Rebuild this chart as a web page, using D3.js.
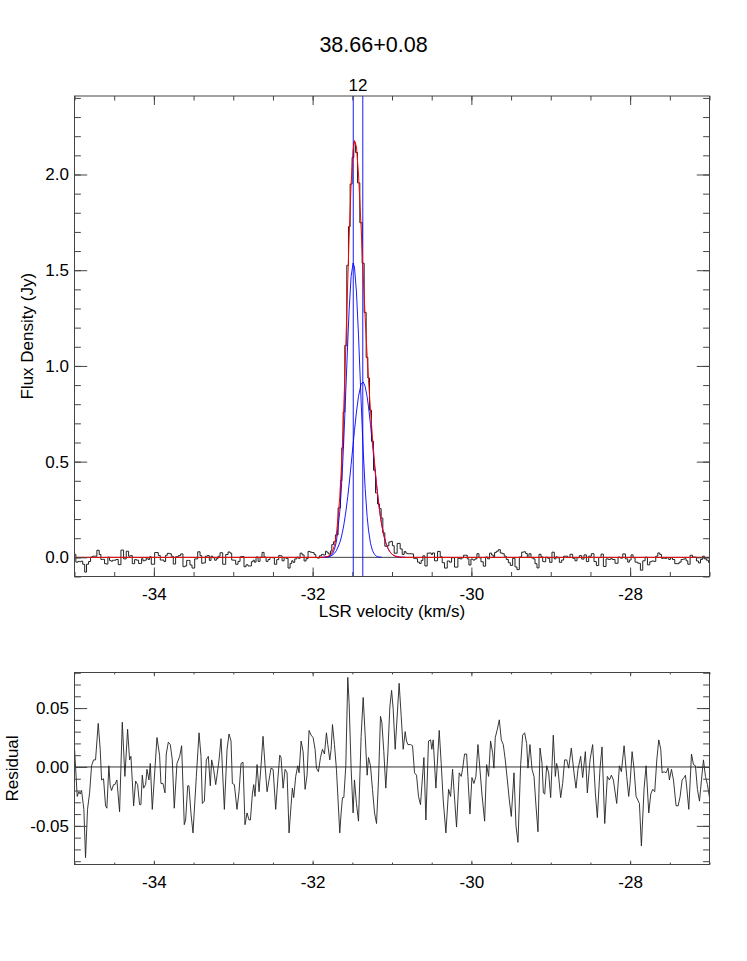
<!DOCTYPE html>
<html>
<head>
<meta charset="utf-8">
<script src="https://cdn.jsdelivr.net/npm/d3@7"></script>
<style>
  body { margin: 0; background: #fff; }
  text { font-family: "Liberation Sans", Arial, Helvetica, sans-serif; fill: #000; }
</style>
</head>
<body>
<div id="container"></div>
<script>
/* DATA */
const title = "38.66+0.08";
const compLabels = ["1", "2"];
const compCenter = [-31.488, -31.368];
const compAmp = [1.538, 0.917];
const compSigma = [0.088, 0.13];
const baseline = 0.0;

const velTicks = [-34, -32, -30, -28];
const fluxTicks = [0.0, 0.5, 1.0, 1.5, 2.0];
const residTicks = [-0.05, 0.00, 0.05];

// [velocity (km/s), residual (Jy)]
const residual = [
  [-35.000, 0.016], [-34.966, -0.025], [-34.945, -0.021], [-34.928, -0.023], [-34.911, -0.020],
  [-34.882, -0.036], [-34.861, -0.077], [-34.836, -0.036], [-34.810, -0.022], [-34.785, 0.001],
  [-34.760, 0.006], [-34.735, 0.006], [-34.701, 0.037], [-34.676, 0.015], [-34.659, -0.011],
  [-34.634, -0.010], [-34.609, -0.033], [-34.592, -0.035], [-34.567, 0.001], [-34.550, -0.016],
  [-34.533, -0.020], [-34.508, -0.015], [-34.491, -0.015], [-34.466, -0.011], [-34.432, -0.038],
  [-34.398, 0.038], [-34.365, -0.008], [-34.331, 0.032], [-34.306, 0.006], [-34.289, 0.009],
  [-34.255, -0.033], [-34.230, -0.012], [-34.205, -0.015], [-34.180, -0.032], [-34.163, -0.032],
  [-34.146, -0.007], [-34.129, -0.018], [-34.104, -0.015], [-34.087, -0.002], [-34.062, -0.011],
  [-34.045, 0.003], [-34.020, -0.036], [-33.961, 0.025], [-33.928, 0.010], [-33.911, -0.014],
  [-33.886, -0.014], [-33.860, -0.022], [-33.844, 0.011], [-33.818, 0.021], [-33.793, 0.019],
  [-33.768, 0.006], [-33.743, -0.035], [-33.709, 0.003], [-33.675, 0.009], [-33.650, 0.018],
  [-33.617, -0.049], [-33.600, -0.045], [-33.574, -0.016], [-33.558, -0.016], [-33.532, -0.040],
  [-33.507, -0.056], [-33.465, -0.008], [-33.431, 0.029], [-33.406, 0.009], [-33.389, -0.031],
  [-33.364, -0.029], [-33.339, 0.006], [-33.314, 0.009], [-33.289, -0.016], [-33.272, 0.006],
  [-33.247, -0.002], [-33.221, -0.015], [-33.204, -0.007], [-33.179, 0.006], [-33.154, 0.024],
  [-33.112, -0.036], [-33.078, 0.015], [-33.053, 0.028], [-33.028, 0.022], [-33.011, -0.014],
  [-32.986, -0.015], [-32.953, -0.036], [-32.927, -0.021], [-32.902, 0.003], [-32.877, 0.004],
  [-32.852, -0.049], [-32.826, -0.039], [-32.801, -0.045], [-32.784, -0.045], [-32.759, -0.023],
  [-32.742, -0.015], [-32.726, -0.025], [-32.700, 0.002], [-32.675, -0.021], [-32.650, 0.001],
  [-32.625, 0.026], [-32.599, 0.001], [-32.574, -0.021], [-32.549, -0.011], [-32.524, -0.001],
  [-32.498, -0.002], [-32.465, -0.036], [-32.440, -0.012], [-32.414, 0.010], [-32.398, 0.008],
  [-32.372, -0.018], [-32.347, -0.002], [-32.322, -0.005], [-32.297, -0.056], [-32.271, -0.032],
  [-32.255, -0.018], [-32.238, -0.026], [-32.213, -0.008], [-32.187, 0.001], [-32.171, -0.005],
  [-32.145, 0.022], [-32.120, 0.013], [-32.095, -0.019], [-32.070, -0.007], [-32.045, 0.031],
  [-32.019, 0.027], [-31.994, 0.025], [-31.969, 0.015], [-31.952, -0.001], [-31.927, -0.004],
  [-31.901, 0.008], [-31.876, 0.015], [-31.851, 0.011], [-31.826, 0.029], [-31.809, 0.019],
  [-31.784, 0.006], [-31.767, 0.015], [-31.750, 0.036], [-31.725, 0.019], [-31.700, -0.002],
  [-31.658, -0.056], [-31.641, -0.039], [-31.624, -0.026], [-31.607, -0.026], [-31.582, 0.001],
  [-31.557, 0.076], [-31.540, 0.054], [-31.515, -0.001], [-31.490, -0.039], [-31.473, -0.011],
  [-31.448, -0.031], [-31.422, -0.046], [-31.389, 0.026], [-31.363, 0.059], [-31.338, 0.027],
  [-31.313, -0.007], [-31.296, 0.008], [-31.271, 0.001], [-31.246, -0.019], [-31.220, -0.039],
  [-31.195, -0.048], [-31.170, -0.011], [-31.145, 0.043], [-31.128, 0.038], [-31.103, 0.013],
  [-31.078, -0.018], [-31.052, 0.012], [-31.027, 0.051], [-31.005, 0.065], [-30.985, 0.049],
  [-30.960, 0.015], [-30.910, 0.071], [-30.884, 0.043], [-30.859, 0.015], [-30.834, 0.030],
  [-30.817, 0.022], [-30.800, 0.019], [-30.767, 0.019], [-30.741, 0.018], [-30.716, -0.005],
  [-30.691, -0.007], [-30.666, -0.025], [-30.641, -0.032], [-30.624, -0.016], [-30.598, 0.008],
  [-30.573, -0.045], [-30.540, 0.022], [-30.514, 0.023], [-30.498, 0.015], [-30.481, 0.023],
  [-30.447, -0.018], [-30.405, 0.031], [-30.380, 0.003], [-30.355, -0.028], [-30.321, -0.056],
  [-30.287, -0.019], [-30.262, -0.025], [-30.237, -0.002], [-30.187, -0.051], [-30.153, -0.005],
  [-30.128, -0.008], [-30.111, -0.002], [-30.086, 0.011], [-30.060, 0.011], [-30.044, -0.008],
  [-30.018, -0.040], [-29.993, -0.009], [-29.968, -0.014], [-29.943, -0.008], [-29.917, 0.019],
  [-29.892, -0.002], [-29.867, -0.023], [-29.833, -0.046], [-29.808, 0.002], [-29.783, -0.008],
  [-29.758, 0.022], [-29.732, 0.012], [-29.716, -0.001], [-29.699, 0.025], [-29.673, 0.032],
  [-29.648, 0.040], [-29.623, 0.023], [-29.598, 0.019], [-29.573, 0.006], [-29.547, -0.011],
  [-29.522, -0.028], [-29.497, -0.042], [-29.463, -0.005], [-29.438, -0.050], [-29.413, -0.064],
  [-29.379, 0.002], [-29.354, 0.027], [-29.329, 0.029], [-29.304, 0.020], [-29.287, -0.001],
  [-29.262, 0.019], [-29.236, -0.002], [-29.211, -0.008], [-29.186, -0.033], [-29.161, -0.055],
  [-29.135, 0.016], [-29.110, 0.003], [-29.093, -0.022], [-29.076, -0.023], [-29.051, 0.001],
  [-29.026, -0.005], [-29.001, -0.026], [-28.968, 0.027], [-28.942, -0.008], [-28.926, 0.003],
  [-28.909, -0.002], [-28.875, -0.026], [-28.850, -0.014], [-28.825, 0.006], [-28.799, 0.006],
  [-28.774, -0.001], [-28.741, 0.016], [-28.707, -0.005], [-28.682, -0.018], [-28.657, -0.002],
  [-28.623, 0.009], [-28.598, -0.009], [-28.564, 0.013], [-28.539, -0.022], [-28.505, 0.006],
  [-28.472, 0.019], [-28.438, -0.022], [-28.413, -0.043], [-28.379, -0.001], [-28.354, 0.017],
  [-28.320, -0.048], [-28.287, -0.008], [-28.261, -0.011], [-28.236, -0.007], [-28.211, -0.011],
  [-28.169, -0.031], [-28.135, 0.001], [-28.110, -0.004], [-28.076, 0.018], [-28.043, -0.008],
  [-28.018, -0.025], [-28.001, -0.014], [-27.975, 0.013], [-27.950, -0.002], [-27.925, -0.025],
  [-27.883, -0.031], [-27.858, -0.067], [-27.824, -0.018], [-27.799, 0.001], [-27.765, -0.039],
  [-27.740, -0.023], [-27.715, -0.019], [-27.690, -0.021], [-27.664, 0.006], [-27.639, 0.023],
  [-27.614, 0.015], [-27.597, -0.005], [-27.572, -0.004], [-27.547, -0.005], [-27.522, -0.001],
  [-27.505, -0.011], [-27.479, -0.002], [-27.454, -0.011], [-27.421, -0.033], [-27.395, -0.033],
  [-27.370, -0.025], [-27.345, -0.011], [-27.320, -0.009], [-27.303, -0.007], [-27.286, -0.018],
  [-27.261, -0.036], [-27.227, 0.011], [-27.202, 0.002], [-27.177, 0.001], [-27.152, -0.019],
  [-27.126, -0.029], [-27.101, -0.011], [-27.076, 0.006], [-27.051, -0.008], [-27.026, -0.015],
  [-27.000, -0.026]
];

/* LAYOUT */
const width = 747, height = 961;
const left = 74.5, right = 709.5;
const top1 = 96, bot1 = 576.5;
const top2 = 672.5, bot2 = 864.5;
const fontSize = 17;

// plain hyphen minus, like the original plot
const fmt = spec => d => d3.format(spec)(d).replace("\u2212", "-");

// gaussian fit model, evaluated at the observed channels
function gauss(v, i) {
  return compAmp[i] * Math.exp(-Math.pow(v - compCenter[i], 2) / (2 * compSigma[i] * compSigma[i]));
}
function model(v) {
  return baseline + gauss(v, 0) + gauss(v, 1);
}

const spectrum = residual.map(d => ({ v: d[0], flux: model(d[0]) + d[1], fit: model(d[0]), res: d[1] }));

/* SCALES */
const xScale = d3.scaleLinear().domain([-35, -27]).range([left, right]);
const yScale = d3.scaleLinear().domain([-0.1, 2.41]).range([bot1, top1]);
const rScale = d3.scaleLinear().domain([-0.0828, 0.0802]).range([bot2, top2]);

const svg = d3.select("#container")
  .append("svg")
  .attr("width", width)
  .attr("height", height);

svg.append("defs").append("clipPath").attr("id", "clipTop")
  .append("rect").attr("x", left).attr("y", top1).attr("width", right - left).attr("height", bot1 - top1);
svg.select("defs").append("clipPath").attr("id", "clipBot")
  .append("rect").attr("x", left).attr("y", top2).attr("width", right - left).attr("height", bot2 - top2);

// title
svg.append("text")
  .attr("x", width / 2)
  .attr("y", 52)
  .attr("text-anchor", "middle")
  .style("font-size", "21.5px")
  .text(title);

/* AXES helper: inward ticks on all four sides */
function frameAxes(g, y, yTop, yBot, majorY, minorY, yFmt, xLen, yLen) {
  const minorX = d3.range(-35, -26.99, 0.5);
  const tickColor = "#444";
  const add = (axis, tx, ty) => {
    const a = g.append("g").attr("transform", `translate(${tx},${ty})`).call(axis);
    a.select(".domain").remove();
    a.selectAll("line").attr("stroke", tickColor);
    a.selectAll("text").remove();
  };
  // bottom / top
  add(d3.axisTop(xScale).tickValues(minorX).tickSize(xLen / 2).tickFormat(""), 0, yBot);
  add(d3.axisTop(xScale).tickValues(velTicks).tickSize(xLen).tickFormat(""), 0, yBot);
  add(d3.axisBottom(xScale).tickValues(minorX).tickSize(xLen / 2).tickFormat(""), 0, yTop);
  add(d3.axisBottom(xScale).tickValues(velTicks).tickSize(xLen).tickFormat(""), 0, yTop);
  // left / right
  add(d3.axisRight(y).tickValues(minorY).tickSize(yLen / 2).tickFormat(""), left, 0);
  add(d3.axisRight(y).tickValues(majorY).tickSize(yLen).tickFormat(""), left, 0);
  add(d3.axisLeft(y).tickValues(minorY).tickSize(yLen / 2).tickFormat(""), right, 0);
  add(d3.axisLeft(y).tickValues(majorY).tickSize(yLen).tickFormat(""), right, 0);

  // labels
  const xl = g.append("g").attr("transform", `translate(0,${yBot})`)
    .call(d3.axisBottom(xScale).tickValues(velTicks).tickSize(0).tickPadding(11).tickFormat(fmt("d")));
  xl.select(".domain").remove();
  xl.selectAll("text").style("font-size", fontSize + "px").style("font-family", null).attr("fill", "#000");
  const yl = g.append("g").attr("transform", `translate(${left},0)`)
    .call(d3.axisLeft(y).tickValues(majorY).tickSize(0).tickPadding(5.5).tickFormat(yFmt));
  yl.select(".domain").remove();
  yl.selectAll("text").style("font-size", fontSize + "px").style("font-family", null).attr("fill", "#000");

  g.append("rect")
    .attr("x", left).attr("y", yTop)
    .attr("width", right - left).attr("height", yBot - yTop)
    .attr("fill", "none").attr("stroke", tickColor).attr("stroke-width", 1);
}

/* TOP PANEL */
const gTop = svg.append("g");
const plotTop = gTop.append("g").attr("clip-path", "url(#clipTop)");

plotTop.append("path")
  .datum(spectrum)
  .attr("fill", "none")
  .attr("stroke", "#222")
  .attr("stroke-width", 1)
  .attr("d", d3.line().curve(d3.curveStep).x(d => xScale(d.v)).y(d => yScale(d.flux)));

plotTop.append("line")
  .attr("x1", left).attr("x2", right)
  .attr("y1", yScale(0)).attr("y2", yScale(0))
  .attr("stroke", "#444").attr("stroke-width", 1);

compCenter.forEach((c, i) => {
  // only the part of each component that rises off the baseline
  const part = spectrum.filter(d => Math.abs(d.v - c) < 4.2 * compSigma[i]);
  plotTop.append("path")
    .datum(part)
    .attr("fill", "none")
    .attr("stroke", "#0000ff")
    .attr("stroke-width", 0.9)
    .attr("d", d3.line().x(d => xScale(d.v)).y(d => yScale(gauss(d.v, i))));
  plotTop.append("line")
    .attr("x1", xScale(c)).attr("x2", xScale(c))
    .attr("y1", top1).attr("y2", bot1)
    .attr("stroke", "#0000ff").attr("stroke-width", 0.9);
  gTop.append("text")
    .attr("x", xScale(c))
    .attr("y", 91)
    .attr("text-anchor", "middle")
    .style("font-size", fontSize + "px")
    .text(compLabels[i]);
});

plotTop.append("path")
  .datum(spectrum)
  .attr("fill", "none")
  .attr("stroke", "#ff0000")
  .attr("stroke-width", 1)
  .attr("d", d3.line().x(d => xScale(d.v)).y(d => yScale(d.fit)));

frameAxes(gTop, yScale, top1, bot1, fluxTicks,
  d3.range(-0.1, 2.41, 0.1).map(d => +d.toFixed(1)), fmt(".1f"), 9, 12.7);

gTop.append("text")
  .attr("x", (left + right) / 2)
  .attr("y", 617)
  .attr("text-anchor", "middle")
  .style("font-size", fontSize + "px")
  .text("LSR velocity (km/s)");

gTop.append("text")
  .attr("transform", `translate(33,${(top1 + bot1) / 2}) rotate(-90)`)
  .attr("text-anchor", "middle")
  .style("font-size", fontSize + "px")
  .text("Flux Density (Jy)");

/* RESIDUAL PANEL */
const gBot = svg.append("g");
const plotBot = gBot.append("g").attr("clip-path", "url(#clipBot)");

plotBot.append("line")
  .attr("x1", left).attr("x2", right)
  .attr("y1", rScale(0)).attr("y2", rScale(0))
  .attr("stroke", "#333").attr("stroke-width", 1);

plotBot.append("path")
  .datum(spectrum)
  .attr("fill", "none")
  .attr("stroke", "#222")
  .attr("stroke-width", 0.9)
  .attr("d", d3.line().x(d => xScale(d.v)).y(d => rScale(d.res)));

frameAxes(gBot, rScale, top2, bot2, residTicks,
  d3.range(-0.08, 0.081, 0.01).map(d => +d.toFixed(2)), fmt(".2f"), 3.8, 12.7);

gBot.append("text")
  .attr("transform", `translate(18,${(top2 + bot2) / 2}) rotate(-90)`)
  .attr("text-anchor", "middle")
  .style("font-size", fontSize + "px")
  .text("Residual");
</script>
</body>
</html>
